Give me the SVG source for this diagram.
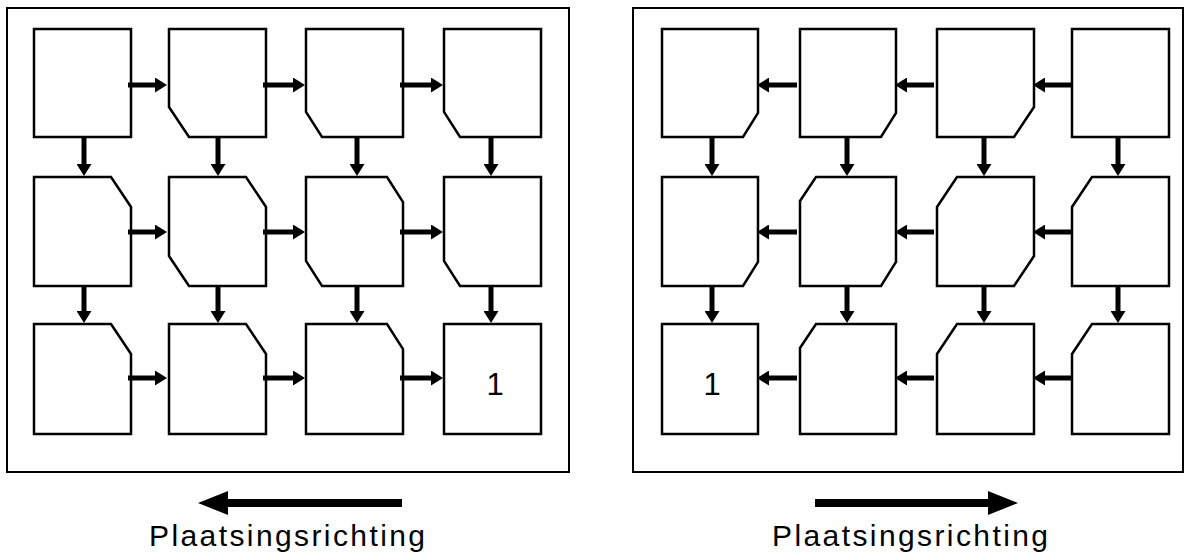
<svg xmlns="http://www.w3.org/2000/svg" width="1190" height="556" viewBox="0 0 1190 556">
<defs>
<style>
.frame{fill:#fff;stroke:#000;stroke-width:2}
.box{fill:#fff;stroke:#000;stroke-width:2.5;stroke-linejoin:miter}
.arr{stroke:#000;stroke-width:5;fill:none;marker-end:url(#ah)}
.big{stroke:#000;stroke-width:8;fill:none;marker-end:url(#bh)}
.num{font-family:"Liberation Sans",Arial,sans-serif;font-size:31px;fill:#000;text-anchor:middle}
.lbl{font-family:"Liberation Sans",Arial,sans-serif;font-size:30px;fill:#000;text-anchor:middle}
</style>
<marker id="ah" viewBox="0 0 12 15" markerWidth="12" markerHeight="15" refX="2" refY="7.5" orient="auto" markerUnits="userSpaceOnUse"><path d="M0,0 L12,7.5 L0,15 Z" fill="#000"/></marker>
<marker id="bh" viewBox="0 0 30 24" markerWidth="30" markerHeight="24" refX="2" refY="12" orient="auto" markerUnits="userSpaceOnUse"><path d="M0,0 L30,12 L0,24 Z" fill="#000"/></marker>
</defs>
<rect width="1190" height="556" fill="#fff"/>
<g id="frames">
<rect id="frame-left" class="frame" x="7" y="8" width="562" height="464"/>
<rect id="frame-right" class="frame" x="633" y="8" width="550" height="464"/>
</g>
<g id="left-panel">
<g id="L11"><path class="box" d="M34,29 H131 V137 H34 Z"/></g>
<g id="L12"><path class="box" d="M169,29 H266 V137 H189 L169,107 Z"/></g>
<g id="L13"><path class="box" d="M306,29 H403 V137 H322 L306,112 Z"/></g>
<g id="L14"><path class="box" d="M444,29 H541 V137 H460 L444,112 Z"/></g>
<g id="L21"><path class="box" d="M34,177 H111 L131,207 V286 H34 Z"/></g>
<g id="L22"><path class="box" d="M169,177 H246 L266,207 V286 H189 L169,256 Z"/></g>
<g id="L23"><path class="box" d="M306,177 H387 L403,202 V286 H322 L306,261 Z"/></g>
<g id="L24"><path class="box" d="M444,177 H541 V286 H460 L444,261 Z"/></g>
<g id="L31"><path class="box" d="M34,324 H111 L131,354 V434 H34 Z"/></g>
<g id="L32"><path class="box" d="M169,324 H246 L266,354 V434 H169 Z"/></g>
<g id="L33"><path class="box" d="M306,324 H387 L403,349 V434 H306 Z"/></g>
<g id="L34"><path class="box" d="M444,324 H541 V434 H444 Z"/><text class="num" x="495" y="395">1</text></g>
</g>
<g id="right-panel">
<g id="R11"><path class="box" d="M662,29 H758 V113 L743,137 H662 Z"/></g>
<g id="R12"><path class="box" d="M800,29 H896 V113 L881,137 H800 Z"/></g>
<g id="R13"><path class="box" d="M937,29 H1034 V107 L1014,137 H937 Z"/></g>
<g id="R14"><path class="box" d="M1072,29 H1169 V137 H1072 Z"/></g>
<g id="R21"><path class="box" d="M662,177 H758 V262 L743,286 H662 Z"/></g>
<g id="R22"><path class="box" d="M816,177 H896 V262 L881,286 H800 V201 Z"/></g>
<g id="R23"><path class="box" d="M957,177 H1034 V256 L1014,286 H937 V207 Z"/></g>
<g id="R24"><path class="box" d="M1092,177 H1169 V286 H1072 V207 Z"/></g>
<g id="R31"><path class="box" d="M662,324 H758 V434 H662 Z"/><text class="num" x="712" y="395">1</text></g>
<g id="R32"><path class="box" d="M816,324 H896 V434 H800 V348 Z"/></g>
<g id="R33"><path class="box" d="M957,324 H1034 V434 H937 V354 Z"/></g>
<g id="R34"><path class="box" d="M1092,324 H1169 V434 H1072 V354 Z"/></g>
</g>
<g id="connectors">
<line class="arr" x1="128" y1="85" x2="157" y2="85"/>
<line class="arr" x1="263" y1="85" x2="295" y2="85"/>
<line class="arr" x1="400" y1="85" x2="433" y2="85"/>
<line class="arr" x1="128" y1="232" x2="157" y2="232"/>
<line class="arr" x1="263" y1="232" x2="295" y2="232"/>
<line class="arr" x1="400" y1="232" x2="433" y2="232"/>
<line class="arr" x1="128" y1="378" x2="157" y2="378"/>
<line class="arr" x1="263" y1="378" x2="295" y2="378"/>
<line class="arr" x1="400" y1="378" x2="433" y2="378"/>
<line class="arr" x1="84" y1="137" x2="84" y2="166"/>
<line class="arr" x1="218" y1="137" x2="218" y2="166"/>
<line class="arr" x1="357" y1="137" x2="357" y2="166"/>
<line class="arr" x1="491" y1="137" x2="491" y2="166"/>
<line class="arr" x1="84" y1="286" x2="84" y2="313"/>
<line class="arr" x1="218" y1="286" x2="218" y2="313"/>
<line class="arr" x1="357" y1="286" x2="357" y2="313"/>
<line class="arr" x1="491" y1="286" x2="491" y2="313"/>
<line class="arr" x1="797" y1="85" x2="767" y2="85"/>
<line class="arr" x1="934" y1="85" x2="905" y2="85"/>
<line class="arr" x1="1072" y1="85" x2="1043" y2="85"/>
<line class="arr" x1="797" y1="232" x2="767" y2="232"/>
<line class="arr" x1="934" y1="232" x2="905" y2="232"/>
<line class="arr" x1="1072" y1="232" x2="1043" y2="232"/>
<line class="arr" x1="797" y1="378" x2="767" y2="378"/>
<line class="arr" x1="934" y1="378" x2="905" y2="378"/>
<line class="arr" x1="1072" y1="378" x2="1043" y2="378"/>
<line class="arr" x1="712" y1="137" x2="712" y2="166"/>
<line class="arr" x1="847" y1="137" x2="847" y2="166"/>
<line class="arr" x1="984" y1="137" x2="984" y2="166"/>
<line class="arr" x1="1118" y1="137" x2="1118" y2="166"/>
<line class="arr" x1="712" y1="286" x2="712" y2="313"/>
<line class="arr" x1="847" y1="286" x2="847" y2="313"/>
<line class="arr" x1="984" y1="286" x2="984" y2="313"/>
<line class="arr" x1="1118" y1="286" x2="1118" y2="313"/>
<line class="big" x1="402" y1="503" x2="226" y2="503"/>
<line class="big" x1="815" y1="503" x2="990" y2="503"/>
</g>
<g id="labels">
<text class="lbl" x="287" y="546" textLength="276" lengthAdjust="spacing">Plaatsingsrichting</text>
<text class="lbl" x="910" y="546" textLength="276" lengthAdjust="spacing">Plaatsingsrichting</text>
</g>
</svg>
